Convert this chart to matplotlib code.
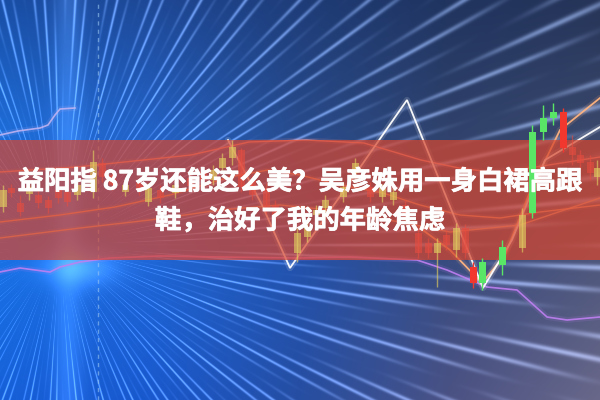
import numpy as np
import matplotlib
matplotlib.use("Agg")
import matplotlib.pyplot as plt
from matplotlib.patches import Rectangle
import matplotlib.patheffects as pe

plt.rcParams['font.family'] = ['Noto Sans CJK SC', 'DejaVu Sans']

# ---------------- data ----------------
title_line1 = "益阳指 87岁还能这么美？吴彦姝用一身白裙高跟"
title_line2 = "鞋，治好了我的年龄焦虑"

# candles (x position, open, close, high, low) on the chart's level scale (inverted axis)
cx = [3, 11, 20, 29, 38, 48, 58, 67, 77, 93, 102, 112, 125, 139, 148, 160, 175, 190, 203,
      213, 222, 232, 241, 252, 266, 275, 297, 307, 316, 325, 343, 355, 370, 382, 393, 405,
      418, 428, 437, 446, 456, 465, 473, 482, 502, 522, 532, 543, 553, 563, 572, 580, 590, 597]
c_open = [207, 188, 203, 194, 195, 200, 190, 192, 195, 192, 163, 175, 192, 183, 202, 190, 193, 178, 172,
          180, 168, 158, 150, 180, 188, 205, 253, 237, 215, 208, 197, 173, 187, 197, 200, 205,
          233, 243, 253, 235, 250, 228, 267, 262, 265, 248, 213, 132, 118, 112, 147, 155, 162, 177]
c_close = [190, 193, 212, 187, 203, 208, 198, 202, 185, 162, 177, 185, 185, 190, 188, 198, 185, 186, 180,
           170, 158, 147, 187, 195, 210, 215, 233, 227, 210, 200, 187, 163, 197, 188, 192, 215,
           253, 253, 243, 245, 228, 253, 283, 283, 247, 215, 132, 118, 112, 148, 155, 163, 173, 168]
c_high = [185, 184, 195, 180, 190, 196, 186, 188, 180, 150, 158, 170, 180, 178, 183, 185, 180, 173, 168,
          165, 153, 140, 148, 175, 183, 200, 228, 222, 205, 195, 182, 158, 182, 184, 188, 200,
          228, 238, 238, 230, 223, 224, 262, 258, 240, 208, 125, 105, 103, 108, 135, 150, 155, 160]
c_low = [212, 197, 216, 200, 208, 213, 203, 206, 200, 198, 182, 190, 196, 195, 206, 203, 198, 190, 185,
         185, 172, 165, 192, 200, 214, 222, 262, 242, 220, 212, 202, 178, 202, 202, 205, 220,
         258, 258, 287, 250, 257, 258, 288, 290, 275, 252, 218, 140, 125, 152, 165, 170, 180, 185]
c_kind = ['g', 'r', 'r', 'g', 'r', 'r', 'r', 'r', 'g', 'g', 'r', 'r', 'g', 'r', 'g', 'r', 'g', 'r', 'r',
          'g', 'g', 'g', 'r', 'r', 'r', 'r', 'g', 'g', 'g', 'g', 'g', 'g', 'r', 'g', 'g', 'r',
          'r', 'r', 'g', 'r', 'g', 'r', 'r', 'g', 'g', 'g', 'g', 'g', 'g', 'r', 'r', 'r', 'r', 'g']

# zigzag (white) line
white_x = [228, 262, 290, 407, 483, 512, 545, 600]
white_y = [140, 205, 268, 100, 288, 240, 160, 127]
# steep short moving average
ma5_x = [420, 450, 482, 505, 530, 560, 600]
ma5_y = [228, 250, 283, 255, 192, 130, 98]
# upper moving average
ma10_x = [0, 77, 191, 249, 306, 364, 421, 459, 498, 536, 600]
ma10_y = [172, 167, 155, 142, 140, 143, 160, 168, 173, 167, 157]
# middle moving average
ma20_x = [0, 60, 115, 170, 230, 268, 300, 340, 383, 420, 460, 500, 540, 600]
ma20_y = [222, 215, 207, 195, 177, 170, 175, 185, 193, 205, 215, 218, 212, 205]
# lower moving average
ma30_x = [0, 80, 150, 220, 280, 330, 400, 450, 520, 600]
ma30_y = [238, 228, 220, 210, 205, 210, 222, 232, 225, 198]
# purple line
pur_x = [0, 20, 50, 60, 80, 110, 160, 220, 300, 350, 417, 447, 487, 517, 547, 567, 600]
pur_y = [272, 268, 272, 267, 262, 258, 256, 257, 258, 257, 260, 270, 287, 290, 317, 320, 317]
# top-left lavender line
lav_x = [0, 18, 40, 48, 55, 60, 75]
lav_y = [135, 131, 128, 125, 115, 109, 108]

# background colour anchors (rows top->bottom, columns left->right)
bg_rows = [0, 130, 270, 400]
bg_cols = [0, 150, 300, 450, 600]
bg_colors = [
    [(25, 78, 165), (30, 72, 150), (30, 60, 120), (32, 52, 95), (38, 52, 88)],
    [(30, 108, 215), (35, 98, 198), (40, 75, 140), (48, 66, 108), (58, 72, 108)],
    [(25, 112, 228), (30, 102, 215), (35, 82, 172), (58, 76, 128), (80, 88, 125)],
    [(22, 95, 215), (25, 88, 205), (38, 78, 162), (75, 82, 132), (105, 104, 138)],
]

banner_top, banner_bottom = 140, 260

# ---------------- figure ----------------
W, H = 600, 400
fig = plt.figure(figsize=(6, 4), dpi=100)
ax = fig.add_axes([0, 0, 1, 1])
ax.set_xlim(0, W)
ax.set_ylim(H, 0)
ax.axis('off')

# background image
anch = np.array(bg_colors, dtype=float) / 255.0
ys = np.arange(H) + 0.5
xs = np.arange(W) + 0.5
tmp = np.zeros((len(bg_rows), W, 3))
for i in range(len(bg_rows)):
    for ch in range(3):
        tmp[i, :, ch] = np.interp(xs, bg_cols, anch[i, :, ch])
img = np.zeros((H, W, 3))
for ch in range(3):
    for j in range(W):
        img[:, j, ch] = np.interp(ys, bg_rows, tmp[:, j, ch])

X, Y = np.meshgrid(xs, ys)
theta = np.arctan2(Y - 245, X - 60)
r = np.hypot(X - 60, Y - 245)
streak = (0.5 + 0.5 * np.cos(theta * 150)) ** 6 * (0.5 + 0.5 * np.cos(theta * 41 + r * 0.02))
streak *= np.clip((r - 40) / 120, 0, 1)
img += streak[..., None] * np.array([0.3, 0.33, 0.38])
beam = np.exp(-((X - 68) / 14) ** 2) * 0.14
glow = np.exp(-(((X - 80) / 35) ** 2 + ((Y - 268) / 18) ** 2)) * 0.3
img += (beam + glow)[..., None] * np.array([0.6, 0.8, 1.0])
img = np.clip(img, 0, 1)
ax.imshow(img, extent=(0, W, H, 0), aspect='auto', zorder=0, interpolation='bilinear')

# dashed vertical grid line
ax.axvline(98, color=(0.6, 0.78, 0.95), lw=1, ls=(0, (3, 3)), alpha=0.6, zorder=1)


def glow_line(x, y, color, lw, alpha=1.0, z=2):
    ax.plot(x, y, color=color, lw=lw * 3.5, alpha=0.15 * alpha, zorder=z, solid_capstyle='round')
    ax.plot(x, y, color=color, lw=lw, alpha=alpha, zorder=z, solid_joinstyle='miter')


glow_line(lav_x, lav_y, (0.75, 0.7, 0.95), 1.2, 0.9)
glow_line(pur_x, pur_y, (0.75, 0.5, 0.95), 1.2, 0.9)
glow_line(ma30_x, ma30_y, (0.98, 0.7, 0.55), 1.0, 0.8)
glow_line(ma20_x, ma20_y, (0.98, 0.65, 0.5), 1.0, 0.85)
glow_line(ma10_x, ma10_y, (1.0, 0.6, 0.6), 1.0, 0.85)
glow_line(ma5_x, ma5_y, (1.0, 0.7, 0.5), 1.3, 0.95)
glow_line(white_x, white_y, (1.0, 1.0, 1.0), 1.3, 0.95)

# banner veil
ax.add_patch(Rectangle((0, banner_top), W, banner_bottom - banner_top,
                       facecolor=(215 / 255, 70 / 255, 45 / 255), alpha=0.72,
                       edgecolor='none', zorder=3))

# candles
cols = []
for o, c, k in zip(c_open, c_close, c_kind):
    top, bot = min(o, c), max(o, c)
    inside = top >= banner_top and bot <= banner_bottom
    if k == 'r':
        cols.append((0.9, 0.3, 0.25, 0.6) if inside else (0.95, 0.22, 0.18, 1.0))
    else:
        cols.append((0.88, 0.8, 0.38, 0.65) if inside else (0.35, 0.9, 0.4, 1.0))
bottoms = [min(o, c) for o, c in zip(c_open, c_close)]
heights = [max(abs(o - c), 1.5) for o, c in zip(c_open, c_close)]
ax.vlines(cx, c_high, c_low, colors=cols, lw=1, zorder=4)
ax.bar(cx, heights, bottom=bottoms, width=7, color=cols, edgecolor='none', zorder=5)

# title text
stroke = [pe.withStroke(linewidth=0.5, foreground='white')]
ax.text(300, 182, title_line1, color='white', fontsize=19, fontweight='bold',
        ha='center', va='center', zorder=10, path_effects=stroke)
ax.text(300, 221, title_line2, color='white', fontsize=19, fontweight='bold',
        ha='center', va='center', zorder=10, path_effects=stroke)

fig.savefig('out.png', dpi=100)
